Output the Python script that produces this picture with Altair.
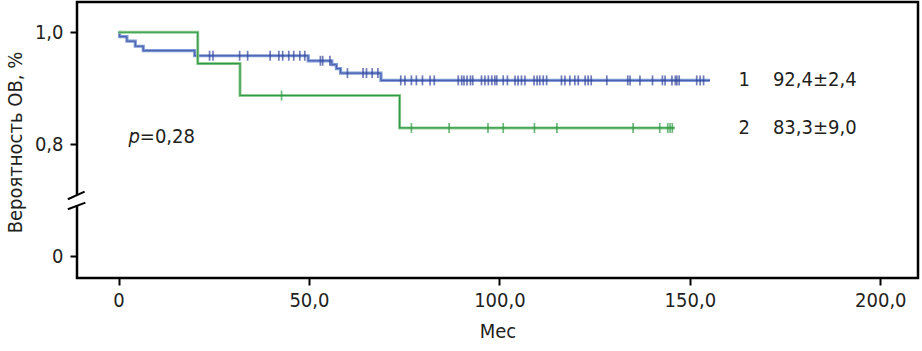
import altair as alt
import pandas as pd

# ---- data ----
# group 1 (blue): Kaplan-Meier step times (months) and survival levels
time_1 = [0, 0.3, 2.2, 4.4, 6.5, 20.0, 49.8, 56.0, 57.2, 58.3, 68.9, 155.3]
surv_1 = [1.0, 0.992, 0.984, 0.975, 0.967, 0.958, 0.949, 0.942, 0.935, 0.927, 0.914, 0.914]
cens_1 = [23.9, 24.8, 31.8, 33.9, 39.8, 42.1, 43.1, 44.7, 46.0, 47.6, 48.9,
          53.0, 53.6, 55.5, 60.1, 64.2, 65.1, 66.6, 68.1,
          74.1, 75.2, 76.9, 78.2, 79.8, 81.8, 82.9, 89.2, 90.1, 90.7, 91.5, 92.4, 93.0,
          95.3, 96.2, 97.1, 98.0, 98.8, 99.3, 101.0, 102.1, 104.1, 104.9, 105.8, 106.7,
          109.1, 109.9, 110.6, 111.5, 112.4, 116.3, 117.2, 118.5, 119.8, 120.7, 122.5,
          123.3, 124.1, 128.2, 133.7, 134.3, 136.9, 140.2, 142.8, 143.5, 145.3, 146.2,
          146.6, 147.2, 151.8, 152.7, 153.6]

# group 2 (green)
time_2 = [0, 20.8, 31.9, 73.8, 146.0]
surv_2 = [1.0, 0.944, 0.887, 0.829, 0.829]
cens_2 = [42.8, 76.9, 86.8, 97.0, 101.0, 109.2, 115.1, 135.1, 142.1, 144.2, 144.8, 145.4]

group_names = ["1", "2"]
final_texts = ["92,4±2,4", "83,3±9,0"]
p_label = "p"
p_value = "=0,28"

x_ticks = [0, 50, 100, 150, 200]
x_tick_labels = ["0", "50,0", "100,0", "150,0", "200,0"]
# broken y axis: value 0 is displayed at position 0.6
y_ticks = [0.6, 0.8, 1.0]
y_tick_labels = ["0", "0,8", "1,0"]

x_title = "Мес"
y_title = "Вероятность ОВ, %"

# ---- styling ----
FONT = "DejaVu Sans Condensed"
FS = 20
TXT = "#231f20"
BLUE_HALO, BLUE = "#7f9bd8", "#33449a"
GREEN_HALO, GREEN = "#95cd97", "#2f9a45"


def level(times, survs, t):
    s = survs[0]
    for ti, si in zip(times, survs):
        if ti <= t:
            s = si
    return s


def label_expr(values, labels):
    expr = "''"
    for v, l in zip(values, labels):
        expr = f"abs(datum.value - {v}) < 0.001 ? '{l}' : ({expr})"
    return expr


curve1 = pd.DataFrame({"t": time_1, "s": surv_1})
curve2 = pd.DataFrame({"t": time_2, "s": surv_2})
c1 = pd.DataFrame({"t": cens_1, "s": [level(time_1, surv_1, t) for t in cens_1]})
c2 = pd.DataFrame({"t": cens_2, "s": [level(time_2, surv_2, t) for t in cens_2]})
legend_df = pd.DataFrame({"g": group_names, "v": final_texts, "s": [surv_1[-1], surv_2[-1]]})

xs = alt.Scale(domain=[-10.9, 209.9], nice=False, zero=False)
ys = alt.Scale(domain=[0.561, 1.054], nice=False, zero=False)

x_axis = alt.Axis(values=x_ticks, labelExpr=label_expr(x_ticks, x_tick_labels), title=x_title,
                  titleY=53, titleBaseline="middle", labelPadding=5)
y_axis = alt.Axis(values=y_ticks, labelExpr=label_expr(y_ticks, y_tick_labels), title=y_title,
                  titleX=-62, titleY=140, titleAngle=270, titleAlign="center",
                  titleBaseline="middle", labelPadding=7)


def X(field="t", **kw):
    return alt.X(field, type="quantitative", scale=xs, axis=x_axis, **kw)


def Y(field="s", **kw):
    return alt.Y(field, type="quantitative", scale=ys, axis=y_axis, **kw)


def XD(v):
    return alt.X(datum=v, type="quantitative", scale=xs, axis=x_axis)


def YD(v):
    return alt.Y(datum=v, type="quantitative", scale=ys, axis=y_axis)


base1 = alt.Chart(curve1)
base2 = alt.Chart(curve2)

halo1 = base1.mark_line(interpolate="step-after", color=BLUE_HALO, strokeWidth=3.2).encode(x=X(), y=Y())
line1 = base1.mark_line(interpolate="step-after", color=BLUE, strokeWidth=1, opacity=0.75).encode(x=X(), y=Y())
halo2 = base2.mark_line(interpolate="step-after", color=GREEN_HALO, strokeWidth=3).encode(x=X(), y=Y())
line2 = base2.mark_line(interpolate="step-after", color=GREEN, strokeWidth=1.2).encode(x=X(), y=Y())

tick1 = alt.Chart(c1).mark_tick(orient="vertical", color=BLUE, size=10, thickness=1.7).encode(x=X(), y=Y())
tick2 = alt.Chart(c2).mark_tick(orient="vertical", color=GREEN, size=10, thickness=1.7).encode(x=X(), y=Y())

leg_num = alt.Chart(legend_df).mark_text(align="left", baseline="middle", font=FONT,
                                         fontSize=FS, color=TXT).encode(
    x=XD(162.8), y=Y(), text="g:N")
leg_val = alt.Chart(legend_df).mark_text(align="left", baseline="middle", font=FONT,
                                         fontSize=FS, color=TXT).encode(
    x=XD(171.8), y=Y(), text="v:N")

p_df = pd.DataFrame({"a": [p_label], "b": [p_value]})
p_it = alt.Chart(p_df).mark_text(align="right", baseline="middle", font=FONT, fontSize=FS,
                                 fontStyle="italic", color=TXT).encode(
    x=XD(5.6), y=YD(0.813), text="a:N")
p_val = alt.Chart(p_df).mark_text(align="left", baseline="middle", font=FONT, fontSize=FS,
                                  color=TXT).encode(
    x=XD(5.6), y=YD(0.813), text="b:N")

# axis break decoration
gap_df = pd.DataFrame({"t": [-10.9], "s": [0.6902], "s2": [0.7088]})
gap = alt.Chart(gap_df).mark_rule(color="white", strokeWidth=6).encode(
    x=X(), y=Y(), y2="s2:Q")
brk_df = pd.DataFrame({"t": [-13.3, -13.3], "t2": [-8.9, -8.7],
                       "s": [0.7017, 0.6838], "s2": [0.7153, 0.6956]})
brk = alt.Chart(brk_df).mark_rule(color="black", strokeWidth=2).encode(
    x=X(), x2="t2:Q", y=Y(), y2="s2:Q")

chart = alt.layer(halo1, line1, halo2, line2, tick1, tick2, leg_num, leg_val,
                  p_it, p_val, gap, brk).properties(
    width=841, height=276,
    autosize=alt.AutoSizeParams(type="none"),
    padding={"left": 77, "top": 2, "right": 4, "bottom": 72},
).configure_view(
    stroke="black", strokeWidth=2.5
).configure_axis(
    domain=False, grid=False, tickColor="black", tickWidth=2, tickSize=7,
    labelFont=FONT, labelFontSize=FS, labelColor=TXT,
    titleFont=FONT, titleFontSize=FS, titleFontWeight="normal", titleColor=TXT
)

chart.save("out.html", embed_options={"renderer": "svg", "actions": False})
